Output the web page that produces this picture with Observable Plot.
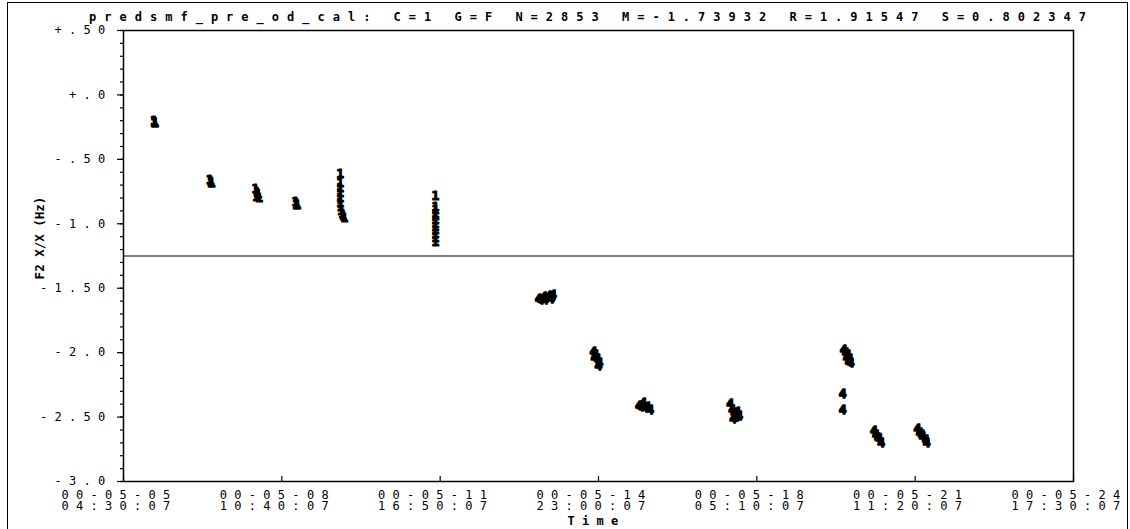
<!DOCTYPE html>
<html><head><meta charset="utf-8">
<script src="https://cdn.jsdelivr.net/npm/d3@7"></script>
<script src="https://cdn.jsdelivr.net/npm/@observablehq/plot@0.6"></script>
<style>
body{margin:0;background:#fff;}
#wrap{position:relative;width:1130px;height:529px;overflow:hidden;background:#fff;}
#frame{position:absolute;left:7px;top:2px;width:1121px;height:600px;border:1.5px solid #000;box-sizing:border-box;pointer-events:none}
svg text{font-family:"DejaVu Sans Mono",monospace;white-space:pre;}
.sp text{letter-spacing:7.3px;}
.tt text{letter-spacing:8px;}
</style></head>
<body><div id="wrap"><div id="frame"></div></div>
<script>
// ---- data ----
const titleText = "predsmf_pre_od_cal: C=1 G=F N=2853 M=-1.73932 R=1.91547 S=0.802347";
const yLabel = "F2 X/X (Hz)";
const xLabel = "Time";
const xTickTimes = ["2000-05-05 04:30:07","2000-05-08 10:40:07","2000-05-11 16:50:07","2000-05-14 23:00:07","2000-05-18 05:10:07","2000-05-21 11:20:07","2000-05-24 17:30:07"];
const xTickLabels = ["00-05-05\n04:30:07","00-05-08\n10:40:07","00-05-11\n16:50:07","00-05-14\n23:00:07","00-05-18\n05:10:07","00-05-21\n11:20:07","00-05-24\n17:30:07"];
const yTicks = [0.5, 0, -0.5, -1, -1.5, -2, -2.5, -3];
const yTickLabels = ["+.50","+.0","-.50","-1.0","-1.50","-2.0","-2.50","-3.0"];
const refLine = -1.25;

const series1Times = [
  "2000-05-05 19:30","2000-05-05 19:50","2000-05-05 20:10","2000-05-05 19:40",
  "2000-05-06 23:00","2000-05-06 23:30","2000-05-07 00:00","2000-05-06 23:40",
  "2000-05-07 21:40","2000-05-07 22:20","2000-05-07 23:00","2000-05-07 22:00","2000-05-07 23:30","2000-05-07 22:40",
  "2000-05-08 17:20","2000-05-08 17:54","2000-05-08 18:20","2000-05-08 17:40",
  "2000-05-09 15:30","2000-05-09 15:30","2000-05-09 15:30","2000-05-09 15:30","2000-05-09 15:30","2000-05-09 15:30","2000-05-09 15:40","2000-05-09 16:00","2000-05-09 16:30","2000-05-09 17:30","2000-05-09 17:00",
  "2000-05-11 14:30","2000-05-11 14:30","2000-05-11 14:30","2000-05-11 14:30","2000-05-11 14:30","2000-05-11 14:30","2000-05-11 14:30","2000-05-11 14:30","2000-05-11 14:30","2000-05-11 14:30","2000-05-11 14:30","2000-05-11 14:30"
];
const series1Values = [
  -0.20,-0.21,-0.22,-0.22,
  -0.66,-0.67,-0.68,-0.68,
  -0.73,-0.75,-0.77,-0.79,-0.80,-0.77,
  -0.83,-0.84,-0.85,-0.85,
  -0.61,-0.68,-0.72,-0.76,-0.80,-0.84,-0.87,-0.90,-0.92,-0.95,-0.94,
  -0.78,-0.87,-0.89,-0.92,-0.94,-0.97,-1.00,-1.02,-1.05,-1.08,-1.11,-1.14
];
const series4Times = [
  "2000-05-13 17:30","2000-05-13 20:00","2000-05-13 22:30","2000-05-14 00:30","2000-05-13 20:30","2000-05-13 23:30","2000-05-13 18:30","2000-05-14 00:00",
  "2000-05-14 20:30","2000-05-14 21:30","2000-05-14 22:30","2000-05-14 23:30","2000-05-14 23:00","2000-05-14 21:00",
  "2000-05-15 19:00","2000-05-15 21:00","2000-05-15 23:00","2000-05-16 00:30","2000-05-15 22:00","2000-05-15 20:00",
  "2000-05-17 16:00","2000-05-17 17:00","2000-05-17 18:00","2000-05-17 19:00","2000-05-17 20:30","2000-05-17 17:30","2000-05-17 19:30",
  "2000-05-20 00:00","2000-05-20 01:00","2000-05-20 02:00","2000-05-20 03:00","2000-05-20 03:30","2000-05-20 02:30","2000-05-20 01:30",
  "2000-05-19 23:30","2000-05-19 23:30",
  "2000-05-20 15:00","2000-05-20 16:00","2000-05-20 17:30","2000-05-20 18:30","2000-05-20 17:00",
  "2000-05-21 12:30","2000-05-21 13:30","2000-05-21 15:00","2000-05-21 16:30","2000-05-21 17:00","2000-05-21 14:30"
];
const series4Values = [
  -1.58,-1.57,-1.56,-1.55,-1.59,-1.58,-1.59,-1.57,
  -1.99,-2.02,-2.05,-2.08,-2.10,-2.04,
  -2.41,-2.39,-2.42,-2.44,-2.43,-2.42,
  -2.40,-2.44,-2.47,-2.50,-2.49,-2.51,-2.46,
  -1.98,-2.00,-2.02,-2.05,-2.08,-2.07,-2.04,
  -2.32,-2.44,
  -2.61,-2.64,-2.67,-2.70,-2.66,
  -2.59,-2.62,-2.65,-2.68,-2.70,-2.64
];

// ---- build ----
const pm = d3.utcParse("%Y-%m-%d %H:%M");
const ps = d3.utcParse("%Y-%m-%d %H:%M:%S");
const ticksX = xTickTimes.map(ps);
const xLabelMap = new Map(ticksX.map((d,i)=>[+d, xTickLabels[i]]));
const yLabelMap = new Map(yTicks.map((d,i)=>[d, yTickLabels[i]]));
const minorY = d3.range(-30, 6).map(i => i/10);
const pts1 = series1Times.map((t,i)=>({t: pm(t), v: series1Values[i]}));
const pts4 = series4Times.map((t,i)=>({t: pm(t), v: series4Values[i]}));

const chart = Plot.plot({
  width: 1130, height: 529,
  marginLeft: 123, marginRight: 57, marginTop: 30, marginBottom: 48,
  style: {background: "transparent", color: "#000", fontSize: "12px"},
  x: {type: "utc", domain: [ticksX[0], ticksX[ticksX.length-1]], label: null},
  y: {domain: [-3, 0.5], label: null},
  marks: [
    Plot.axisY(minorY, {tickSize: 3, text: null, strokeWidth: 1.2, label: null}),
    Plot.axisY(yTicks, {tickSize: 6, tickPadding: 5, tickFormat: d => yLabelMap.get(d), fontSize: 12, className: "sp", label: null, strokeWidth: 1.2}),
    Plot.axisX(ticksX, {tickSize: 5, dy: -5, text: null, strokeWidth: 1.2, label: null}),
    Plot.axisX(ticksX, {tickSize: 0, tickPadding: 9, dx: -4, tickFormat: d => xLabelMap.get(+d), fontSize: 12, lineHeight: 0.95, className: "sp", label: null}),
    Plot.frame({stroke: "#000", strokeWidth: 1.5}),
    Plot.ruleY([refLine], {stroke: "#000", strokeWidth: 1.2}),
    Plot.text(pts1, {x: "t", y: "v", text: () => "1", fontSize: 13, fontWeight: "bold", fill: "#000", stroke: "#000", strokeWidth: 1.1}),
    Plot.text(pts4, {x: "t", y: "v", text: () => "4", fontSize: 13, fontWeight: "bold", fill: "#000", stroke: "#000", strokeWidth: 1.4}),
    Plot.text([titleText], {frameAnchor: "top", lineAnchor: "middle", dy: -13, dx: -7, fontSize: 12, className: "tt", fontWeight: "bold"}),
    Plot.text([yLabel], {frameAnchor: "left", textAnchor: "middle", rotate: -90, dx: -84, dy: -18, fontSize: 12.5, fontWeight: "bold"}),
    Plot.text([xLabel], {frameAnchor: "bottom", lineAnchor: "middle", dy: 40, dx: -2, fontSize: 12, className: "sp", fontWeight: "bold"})
  ]
});
document.getElementById("wrap").appendChild(chart);
</script>
</body></html>
